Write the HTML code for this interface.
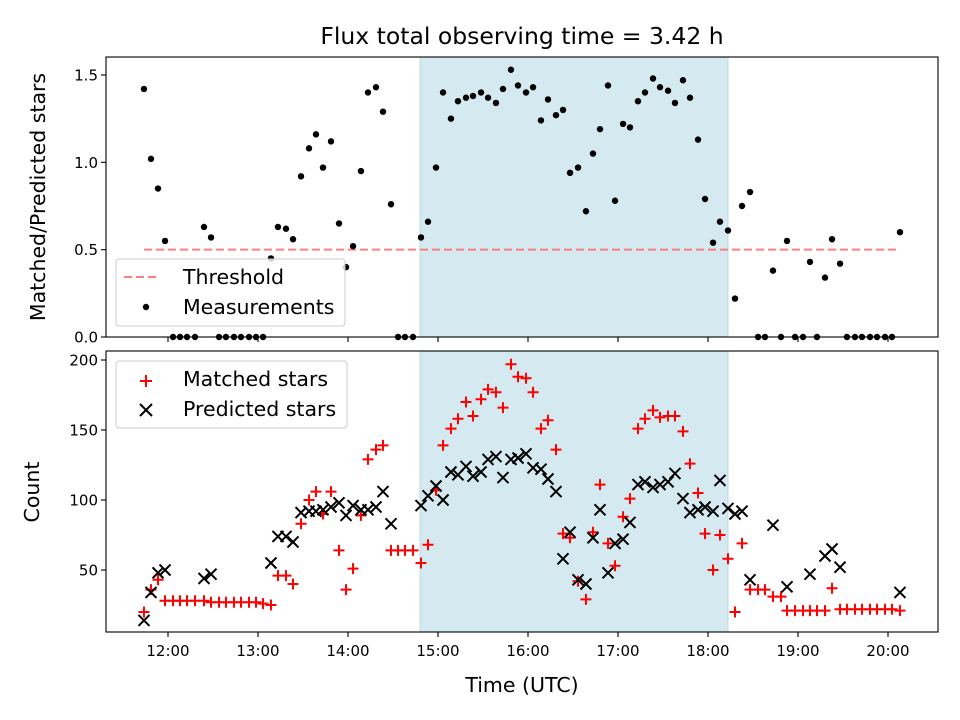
<!DOCTYPE html>
<html><head><meta charset="utf-8"><style>
body{margin:0;background:#fff;}
svg{display:block;font-family:"DejaVu Sans","Liberation Sans",sans-serif;}
</style></head><body>
<svg id="chart" width="960" height="720" viewBox="0 0 960 720"></svg>
<script>
const times=[11.733,11.811,11.889,11.967,12.056,12.133,12.211,12.3,12.4,12.478,12.567,12.644,12.733,12.811,12.9,12.978,13.056,13.144,13.222,13.311,13.389,13.478,13.567,13.644,13.722,13.811,13.9,13.978,14.056,14.144,14.222,14.311,14.389,14.478,14.556,14.633,14.722,14.811,14.889,14.978,15.056,15.144,15.222,15.311,15.389,15.478,15.556,15.644,15.722,15.811,15.889,15.978,16.056,16.144,16.222,16.311,16.389,16.467,16.556,16.644,16.722,16.8,16.889,16.967,17.056,17.133,17.222,17.3,17.389,17.467,17.556,17.633,17.722,17.8,17.889,17.967,18.056,18.133,18.222,18.3,18.378,18.467,18.556,18.633,18.722,18.811,18.878,18.967,19.056,19.133,19.211,19.3,19.378,19.467,19.544,19.633,19.711,19.8,19.878,19.967,20.044,20.133];
const ratio=[1.42,1.02,0.85,0.55,0,0,0,0,0.63,0.57,0,0,0,0,0,0,0,0.45,0.63,0.62,0.56,0.92,1.08,1.16,0.97,1.12,0.65,0.40,0.52,0.95,1.40,1.43,1.29,0.76,0,0,0,0.57,0.66,0.97,1.40,1.25,1.35,1.37,1.38,1.40,1.37,1.34,1.42,1.53,1.44,1.40,1.43,1.24,1.36,1.27,1.30,0.94,0.97,0.72,1.05,1.19,1.44,0.78,1.22,1.20,1.35,1.40,1.48,1.43,1.41,1.34,1.47,1.37,1.13,0.79,0.54,0.66,0.61,0.22,0.75,0.83,0,0,0.38,0,0.55,0,0,0.43,0,0.34,0.56,0.42,0,0,0,0,0,0,0,0.60];
const matched=[20,36,43,28,28,28,28,28,28,27,27,27,27,27,27,27,26,25,46,46,40,83,100,106,90,106,64,36,51,89,129,136,139,64,64,64,64,55,68,107,139,151,158,170,160,172,179,177,166,197,188,187,177,151,157,136,76,73,42,29,77,111,69,53,88,101,151,158,164,159,160,160,149,126,105,76,50,75,58,20,69,36,36,36,31,31,21,21,21,21,21,21,37,22,22,22,22,22,22,22,22,21];
const predicted=[14,34,48,50,null,null,null,null,44,47,null,null,null,null,null,null,null,55,74,74,70,91,92,92,93,95,98,89,96,93,93,95,106,83,null,null,null,96,103,110,100,120,118,124,117,120,129,131,116,129,130,133,123,122,115,106,58,77,43,40,73,93,48,69,72,84,111,113,109,111,113,119,101,91,93,95,92,114,94,90,92,43,null,null,82,null,38,null,null,47,null,60,65,52,null,null,null,null,null,null,null,34];
const xTicks=[12,13,14,15,16,17,18,19,20];
const xTickLabels=["12:00","13:00","14:00","15:00","16:00","17:00","18:00","19:00","20:00"];
const topTicks=[0,0.5,1.0,1.5];
const topTickLabels=["0.0","0.5","1.0","1.5"];
const botTicks=[50,100,150,200];
const threshold=[0.5];
const span=[14.8,18.222];

const NS="http://www.w3.org/2000/svg";
const svg=document.getElementById('chart');
function el(tag,attrs,parent,text){const e=document.createElementNS(NS,tag);for(const k in attrs)e.setAttribute(k,attrs[k]);if(text!==undefined)e.textContent=text;(parent||svg).appendChild(e);return e;}
const L=106,R=938,T1=57,B1=337,T2=351,B2=632;
const xs=t=>168+(t-12)*90;
const y1=v=>337-v*174.67;
const y2=v=>640-v*1.4;

let t=el('text',{x:522,y:44,'text-anchor':'middle','font-size':23.5});t.textContent="Flux total observing time = 3.42 h";



function panel(top,bot,name){
  const g=el('g',{});
  
  
  const s=el('rect',{x:xs(span[0]),y:top,width:xs(span[1])-xs(span[0]),height:bot-top,fill:'#d4e9f0',stroke:'#bcdbe6','stroke-width':1},g);
  
  
  return g;
}
const p1=panel(T1,B1,'top-panel');
const p2=panel(T2,B2,'bottom-panel');

const th=el('line',{x1:xs(times[0]),x2:xs(times[times.length-1]),y1:y1(threshold[0]),y2:y1(threshold[0]),stroke:'#ff7f7f','stroke-width':2,'stroke-dasharray':'8,4'},p1);



times.forEach((tm,i)=>{
  const c=el('circle',{cx:xs(tm),cy:y1(ratio[i]),r:3.2,fill:'#000'},p1);
  
  
});
times.forEach((tm,i)=>{
  const x=xs(tm),y=y2(matched[i]);
  const p=el('path',{d:`M${x-5.5},${y}H${x+5.5}M${x},${y-5.5}V${y+5.5}`,stroke:'#f00','stroke-width':2,fill:'none'},p2);
  
  
});
times.forEach((tm,i)=>{
  if(predicted[i]===null)return;
  const x=xs(tm),y=y2(predicted[i]);
  const p=el('path',{d:`M${x-5.5},${y-5.5}L${x+5.5},${y+5.5}M${x-5.5},${y+5.5}L${x+5.5},${y-5.5}`,stroke:'#000','stroke-width':2,fill:'none'},p2);
  
  
});

[[T1,B1],[T2,B2]].forEach(([a,b],k)=>{
  const f=el('rect',{x:L,y:a,width:R-L,height:b-a,fill:'none',stroke:'#000','stroke-width':1.1});
  
  
  xTicks.forEach((v,i)=>{
    el('line',{x1:xs(v),x2:xs(v),y1:b,y2:b+5,stroke:'#000','stroke-width':1.1});
    if(k===1){const tl=el('text',{x:xs(v),y:b+24,'text-anchor':'middle','font-size':15},svg,xTickLabels[i]);
      
      }
  });
});
topTicks.forEach((v,i)=>{
  el('line',{x1:L-5,x2:L,y1:y1(v),y2:y1(v),stroke:'#000','stroke-width':1.1});
  const tl=el('text',{x:L-8,y:y1(v)+5.5,'text-anchor':'end','font-size':15},svg,topTickLabels[i]);
  
  
});
botTicks.forEach(v=>{
  el('line',{x1:L-5,x2:L,y1:y2(v),y2:y2(v),stroke:'#000','stroke-width':1.1});
  const tl=el('text',{x:L-8,y:y2(v)+5.5,'text-anchor':'end','font-size':15},svg,String(v));
  
  
});
let a=el('text',{x:45,y:197,'text-anchor':'middle','font-size':20.5,transform:'rotate(-90 45 197)'},svg,'Matched/Predicted stars');


a=el('text',{x:39,y:492,'text-anchor':'middle','font-size':20.5,transform:'rotate(-90 39 492)'},svg,'Count');


a=el('text',{x:522,y:692,'text-anchor':'middle','font-size':20.5},svg,'Time (UTC)');



function legendBox(x,y,w,h,name){const r=el('rect',{x:x,y:y,width:w,height:h,rx:3,fill:'#fff','fill-opacity':0.8,stroke:'#ccc','stroke-width':1});
  
  }
legendBox(116,259,229,67,'top-legend');
let e=el('line',{x1:124,x2:160,y1:277,y2:277,stroke:'#ff7f7f','stroke-width':2,'stroke-dasharray':'8,4'});
e=el('text',{x:183,y:284,'font-size':20.5},svg,'Threshold');


el('circle',{cx:146,cy:307,r:3.2,fill:'#000'});
e=el('text',{x:183,y:314,'font-size':20.5},svg,'Measurements');


legendBox(116,361,231,67,'bottom-legend');
el('path',{d:'M140,381H152M146,375V387',stroke:'#f00','stroke-width':2});
e=el('text',{x:183,y:386,'font-size':20.5},svg,'Matched stars');


el('path',{d:'M140,404L152,416M140,416L152,404',stroke:'#000','stroke-width':2});
e=el('text',{x:183,y:416,'font-size':20.5},svg,'Predicted stars');


</script>
</body></html>
